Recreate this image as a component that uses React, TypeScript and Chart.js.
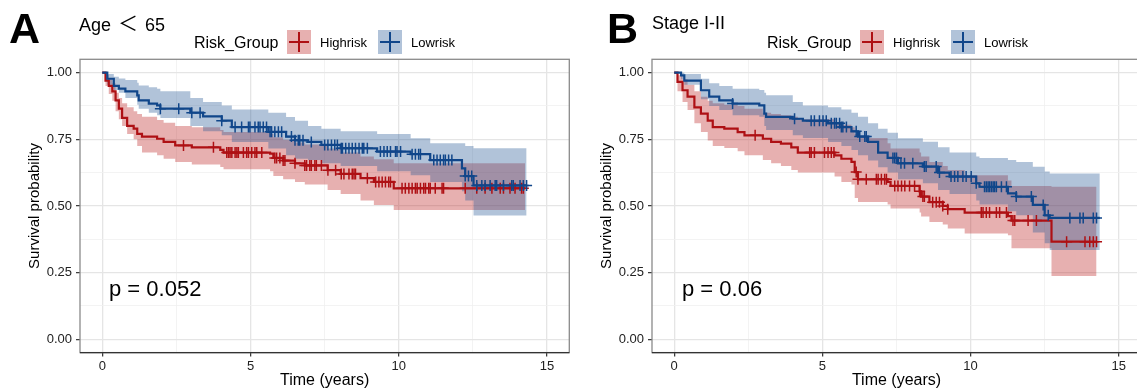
import React, { useEffect, useRef } from "react";
import { Chart, registerables } from "chart.js";

Chart.register(...registerables);
Chart.defaults.font.family = "'Liberation Sans', Arial, sans-serif";

// ---------- shared axis data ----------
const X_TICKS = [0, 2.5, 5, 7.5, 10, 12.5, 15];
const X_MAJOR = [0, 5, 10, 15];
const Y_TICKS = [0, 0.125, 0.25, 0.375, 0.5, 0.625, 0.75, 0.875, 1];
const Y_MAJOR = [0, 0.25, 0.5, 0.75, 1];
const GROUPS = ["Highrisk", "Lowrisk"];
const LEGEND_TITLE = "Risk_Group";

// ---------- Panel A: Age < 65 ----------
const A_HIGH_T = [0, 0.11, 0.22, 0.34, 0.45, 0.56, 0.67, 0.84, 1.06, 1.18, 1.34, 1.85, 2.07, 2.46, 3.02, 3.98, 4.09, 5.66, 5.77, 6.1, 6.5, 6.83, 7.6, 8.04, 8.71, 9.16, 9.83, 14.26];
const A_HIGH_S = [1, 0.97, 0.95, 0.93, 0.896, 0.865, 0.83, 0.8, 0.79, 0.77, 0.76, 0.752, 0.74, 0.727, 0.72, 0.71, 0.7, 0.696, 0.68, 0.67, 0.66, 0.652, 0.634, 0.62, 0.604, 0.59, 0.566, 0.566];
const A_HIGH_UP = [1, 0.99, 0.975, 0.96, 0.925, 0.905, 0.885, 0.87, 0.855, 0.845, 0.835, 0.822, 0.812, 0.8, 0.795, 0.785, 0.777, 0.77, 0.758, 0.748, 0.738, 0.73, 0.715, 0.7, 0.685, 0.675, 0.66, 0.66];
const A_HIGH_LO = [1, 0.95, 0.92, 0.895, 0.855, 0.825, 0.8, 0.77, 0.75, 0.725, 0.7, 0.69, 0.677, 0.665, 0.655, 0.646, 0.638, 0.63, 0.612, 0.6, 0.59, 0.58, 0.56, 0.545, 0.52, 0.504, 0.485, 0.485];
const A_HIGH_CENS = [2.74, 3.75, 4.2, 4.26, 4.31, 4.37, 4.48, 4.54, 4.59, 4.76, 4.87, 4.93, 5.04, 5.15, 5.21, 5.38, 5.82, 5.88, 5.99, 6.1, 6.16, 6.5, 6.83, 6.89, 7.0, 7.05, 7.17, 7.22, 7.39, 7.61, 7.87, 8.06, 8.15, 8.32, 8.43, 8.49, 8.54, 8.94, 9.22, 9.33, 9.44, 9.55, 9.66, 9.72, 10.11, 10.22, 10.34, 10.45, 10.56, 10.62, 10.73, 10.84, 10.9, 11.01, 11.06, 11.23, 11.46, 11.51, 12.24, 12.63, 12.91, 13.14, 13.42, 13.53, 13.75, 13.92, 14.14, 14.2];

const A_LOW_T = [0, 0.17, 0.39, 0.56, 0.78, 1.18, 1.23, 1.57, 1.85, 1.96, 2.97, 3.4, 4.03, 4.37, 5.6, 6.2, 6.5, 6.94, 7.39, 8.04, 9.27, 10.4, 11.06, 12.13, 12.24, 12.52, 14.31];
const A_LOW_S = [1, 0.977, 0.95, 0.94, 0.93, 0.915, 0.896, 0.884, 0.877, 0.865, 0.85, 0.836, 0.82, 0.796, 0.778, 0.76, 0.746, 0.74, 0.729, 0.716, 0.704, 0.694, 0.672, 0.641, 0.612, 0.577, 0.577];
const A_LOW_UP = [1, 0.995, 0.985, 0.978, 0.972, 0.962, 0.952, 0.945, 0.94, 0.93, 0.905, 0.89, 0.877, 0.862, 0.85, 0.834, 0.82, 0.8, 0.79, 0.78, 0.77, 0.754, 0.735, 0.735, 0.725, 0.716, 0.716];
const A_LOW_LO = [1, 0.955, 0.935, 0.925, 0.905, 0.88, 0.865, 0.85, 0.84, 0.83, 0.8, 0.78, 0.765, 0.74, 0.715, 0.69, 0.677, 0.672, 0.66, 0.65, 0.63, 0.615, 0.59, 0.555, 0.52, 0.464, 0.464];
const A_LOW_CENS = [1.96, 2.58, 3.02, 3.3, 4.03, 4.48, 4.7, 4.93, 4.98, 5.15, 5.26, 5.32, 5.43, 5.54, 5.66, 5.71, 5.82, 5.94, 6.05, 6.38, 6.5, 6.61, 6.66, 6.77, 7.05, 7.5, 7.61, 7.73, 7.84, 7.93, 8.06, 8.1, 8.21, 8.32, 8.43, 8.54, 8.66, 8.77, 8.82, 8.94, 9.38, 9.5, 9.61, 9.72, 9.89, 9.94, 10.06, 10.45, 10.56, 10.67, 10.73, 11.18, 11.29, 11.4, 11.51, 11.57, 11.68, 11.79, 12.24, 12.35, 12.46, 12.63, 12.8, 12.91, 13.08, 13.25, 13.3, 13.53, 13.81, 13.86, 14.09, 14.2, 14.31];

// ---------- Panel B: Stage I-II ----------
const B_HIGH_T = [0, 0.11, 0.28, 0.45, 0.68, 0.9, 1.13, 1.3, 1.69, 2.14, 2.37, 2.99, 3.27, 3.6, 3.95, 4.17, 5.41, 5.64, 5.98, 6.09, 6.2, 7.2, 7.3, 8.28, 8.33, 8.61, 9.06, 9.23, 9.8, 11.26, 11.38, 12.73, 14.25];
const B_HIGH_S = [1, 0.965, 0.934, 0.91, 0.87, 0.846, 0.82, 0.796, 0.79, 0.777, 0.765, 0.752, 0.74, 0.734, 0.72, 0.7, 0.69, 0.677, 0.665, 0.627, 0.6, 0.59, 0.575, 0.555, 0.535, 0.514, 0.5, 0.488, 0.475, 0.462, 0.445, 0.366, 0.366];
const B_HIGH_UP = [1, 0.99, 0.975, 0.955, 0.93, 0.91, 0.895, 0.885, 0.88, 0.875, 0.865, 0.85, 0.845, 0.84, 0.835, 0.825, 0.815, 0.805, 0.795, 0.77, 0.755, 0.735, 0.715, 0.7, 0.685, 0.665, 0.65, 0.635, 0.615, 0.595, 0.575, 0.572, 0.572];
const B_HIGH_LO = [1, 0.93, 0.89, 0.86, 0.81, 0.777, 0.745, 0.725, 0.717, 0.705, 0.69, 0.672, 0.66, 0.65, 0.635, 0.625, 0.61, 0.59, 0.58, 0.53, 0.515, 0.505, 0.49, 0.475, 0.46, 0.44, 0.43, 0.415, 0.397, 0.39, 0.341, 0.237, 0.237];
const B_HIGH_CENS = [2.73, 4.57, 4.62, 4.73, 5.07, 5.19, 5.3, 5.39, 6.14, 6.2, 6.48, 6.82, 6.88, 6.99, 7.1, 7.16, 7.44, 7.55, 7.67, 7.78, 7.94, 8.11, 8.28, 8.39, 8.44, 8.72, 8.84, 8.95, 9.06, 9.23, 10.36, 10.42, 10.53, 10.64, 10.87, 10.98, 11.21, 11.43, 11.49, 11.94, 12.22, 13.24, 13.86, 14.02, 14.14, 14.25];

const B_LOW_T = [0, 0.23, 0.34, 0.9, 1.18, 1.52, 1.97, 2.87, 3.04, 3.1, 4.0, 4.34, 5.19, 5.64, 5.98, 6.2, 6.54, 6.88, 7.2, 7.55, 8.39, 8.9, 9.29, 10.19, 10.3, 11.26, 11.54, 12.1, 12.5, 12.67, 14.36];
const B_LOW_S = [1, 0.99, 0.97, 0.934, 0.91, 0.896, 0.884, 0.877, 0.846, 0.834, 0.827, 0.82, 0.81, 0.796, 0.78, 0.76, 0.74, 0.7, 0.68, 0.66, 0.6475, 0.625, 0.61, 0.585, 0.572, 0.547, 0.535, 0.504, 0.465, 0.455, 0.455];
const B_LOW_UP = [1, 1, 0.995, 0.977, 0.96, 0.95, 0.94, 0.935, 0.925, 0.915, 0.89, 0.877, 0.87, 0.862, 0.85, 0.835, 0.81, 0.79, 0.775, 0.754, 0.741, 0.72, 0.7, 0.685, 0.68, 0.672, 0.665, 0.647, 0.629, 0.622, 0.622];
const B_LOW_LO = [1, 0.975, 0.955, 0.9, 0.875, 0.86, 0.84, 0.835, 0.8, 0.785, 0.765, 0.755, 0.74, 0.725, 0.71, 0.69, 0.67, 0.645, 0.625, 0.6, 0.585, 0.56, 0.545, 0.52, 0.505, 0.48, 0.465, 0.4, 0.36, 0.335, 0.335];
const B_LOW_CENS = [1.97, 4.06, 4.62, 4.73, 4.9, 5.02, 5.13, 5.3, 5.41, 5.47, 5.58, 5.64, 5.69, 5.81, 6.14, 6.26, 6.43, 6.48, 7.38, 7.44, 7.5, 7.65, 7.77, 8.05, 8.44, 8.5, 8.84, 8.95, 9.34, 9.46, 9.57, 9.74, 9.85, 10.02, 10.19, 10.47, 10.53, 10.59, 10.64, 10.7, 10.76, 10.81, 10.87, 11.04, 11.21, 11.54, 12.05, 12.45, 12.62, 13.35, 13.69, 13.8, 14.14, 14.25];

// ---------- styles ----------
const RED = "#AE1014";
const BLUE = "#10468A";
const RED_FILL = "rgba(190,40,40,0.37)";
const BLUE_FILL = "rgba(40,90,150,0.36)";
const FONT = "'Liberation Sans', Arial, sans-serif";

type Group = { T: number[]; S: number[]; UP: number[]; LO: number[]; C: number[] };
type PanelSpec = {
  left: number; width: number; axisW: number; padRight: number; yTitlePad: number;
  high: Group; low: Group;
};

function pts(T: number[], V: number[]) {
  return T.map((t, i) => ({ x: t, y: V[i] }));
}
function survAt(T: number[], S: number[], t: number) {
  let v = S[0];
  for (let i = 0; i < T.length; i++) {
    if (T[i] <= t) v = S[i];
    else break;
  }
  return v;
}
function censorPts(g: Group) {
  return g.C.map((t) => ({ x: t, y: survAt(g.T, g.S, t) }));
}

const framePlugin = {
  id: "frame",
  afterDatasetsDraw(chart: any) {
    const { ctx, chartArea: a } = chart;
    ctx.save();
    ctx.strokeStyle = "#8a8a8a";
    ctx.lineWidth = 1.3;
    ctx.strokeRect(a.left, a.top, a.right - a.left, a.bottom - a.top);
    ctx.strokeStyle = "#333";
    ctx.beginPath();
    ctx.moveTo(a.left, a.bottom);
    ctx.lineTo(a.right, a.bottom);
    ctx.stroke();
    ctx.restore();
  },
};

function buildConfig(p: PanelSpec): any {
  const band = (g: Group, fillIdx: number, color: string, order: number) => [
    { data: pts(g.T, g.UP), stepped: "before", fill: fillIdx, backgroundColor: color, borderWidth: 0, borderColor: "rgba(0,0,0,0)", pointRadius: 0, order },
    { data: pts(g.T, g.LO), stepped: "before", fill: false, borderWidth: 0, borderColor: "rgba(0,0,0,0)", pointRadius: 0, order },
  ];
  const line = (g: Group, color: string, order: number) => ({
    data: pts(g.T, g.S), stepped: "before", fill: false, borderColor: color, borderWidth: 2.2, pointRadius: 0, order,
  });
  const cens = (g: Group, color: string, order: number) => ({
    data: censorPts(g), showLine: false, pointStyle: "cross", pointRadius: 5.5, pointBorderWidth: 1.5,
    borderColor: color, backgroundColor: color, order,
  });
  const isMajorX = (v: number) => X_MAJOR.includes(v);
  const isMajorY = (v: number) => Y_MAJOR.some((m) => Math.abs(m - v) < 1e-9);
  return {
    type: "line",
    data: {
      datasets: [
        ...band(p.high, 1, RED_FILL, 40),
        ...band(p.low, 3, BLUE_FILL, 30),
        line(p.high, RED, 20),
        line(p.low, BLUE, 15),
        cens(p.high, RED, 10),
        cens(p.low, BLUE, 5),
      ],
    },
    options: {
      animation: false,
      responsive: false,
      events: [],
      layout: { autoPadding: false, padding: { left: 0, top: 59.3, right: p.padRight, bottom: 0 } },
      plugins: { legend: { display: false }, tooltip: { enabled: false }, title: { display: false } },
      scales: {
        x: {
          type: "linear",
          min: -0.75,
          max: 15.75,
          afterBuildTicks: (s: any) => { s.ticks = X_TICKS.map((v) => ({ value: v })); },
          afterFit: (s: any) => { s.height = 39.4; s.paddingLeft = 0; s.paddingRight = 0; },
          ticks: {
            autoSkip: false, maxRotation: 0, padding: 2, color: "#222",
            font: { size: 13 },
            callback: (v: number) => (isMajorX(v) ? String(v) : ""),
          },
          grid: {
            color: (c: any) => (c.tick && isMajorX(c.tick.value) ? "#e5e5e5" : "#f0f0f0"),
            lineWidth: (c: any) => (c.tick && isMajorX(c.tick.value) ? 1.3 : 0.8),
            tickLength: 4,
            tickWidth: 1.2,
            tickColor: (c: any) => (c.tick && isMajorX(c.tick.value) ? "#333" : "rgba(0,0,0,0)"),
          },
          border: { display: false },
          title: { display: true, text: "Time (years)", color: "#000", font: { size: 16 }, padding: { top: 0, bottom: 1.4 } },
        },
        y: {
          type: "linear",
          min: -0.05,
          max: 1.05,
          afterBuildTicks: (s: any) => { s.ticks = Y_TICKS.map((v) => ({ value: v })); },
          afterFit: (s: any) => { s.width = p.axisW; s.paddingTop = 0; s.paddingBottom = 0; },
          ticks: {
            autoSkip: false, padding: 4, color: "#222",
            font: { size: 13 },
            callback: (v: number) => (isMajorY(v) ? v.toFixed(2) : ""),
          },
          grid: {
            color: (c: any) => (c.tick && isMajorY(c.tick.value) ? "#e5e5e5" : "#f0f0f0"),
            lineWidth: (c: any) => (c.tick && isMajorY(c.tick.value) ? 1.3 : 0.8),
            tickLength: 4,
            tickWidth: 1.2,
            tickColor: (c: any) => (c.tick && isMajorY(c.tick.value) ? "#333" : "rgba(0,0,0,0)"),
          },
          border: { display: false },
          title: { display: true, text: "Survival probability", color: "#000", font: { size: 15 }, padding: { top: p.yTitlePad, bottom: 0 } },
        },
      },
    },
    plugins: [framePlugin],
  };
}

function Panel({ spec }: { spec: PanelSpec }) {
  const ref = useRef<HTMLCanvasElement>(null);
  useEffect(() => {
    const chart = new Chart(ref.current as HTMLCanvasElement, buildConfig(spec));
    return () => chart.destroy();
  }, []);
  return (
    <canvas
      ref={ref}
      width={spec.width}
      height={392}
      style={{ position: "absolute", left: spec.left, top: 0, width: spec.width, height: 392 }}
    />
  );
}

function Txt({ left, base, size, bold, children }: { left: number; base: number; size: number; bold?: boolean; children: React.ReactNode }) {
  return (
    <div
      style={{
        position: "absolute", left, top: base - 0.8465 * size, fontSize: size, lineHeight: `${size}px`,
        fontFamily: FONT, fontWeight: bold ? 700 : 400, color: "#000", whiteSpace: "nowrap",
      }}
    >
      {children}
    </div>
  );
}

function Key({ left, color, fill }: { left: number; color: string; fill: string }) {
  return (
    <div style={{ position: "absolute", left, top: 30, width: 24, height: 24, background: fill }}>
      <div style={{ position: "absolute", left: 2, top: 11, width: 20, height: 2, background: color }} />
      <div style={{ position: "absolute", left: 11, top: 2, width: 2, height: 20, background: color }} />
    </div>
  );
}

function Legend({ x }: { x: number }) {
  return (
    <>
      <Txt left={x} base={48.5} size={16}>{LEGEND_TITLE}</Txt>
      <Key left={x + 93} color={RED} fill={RED_FILL} />
      <Txt left={x + 126} base={47.5} size={13}>{GROUPS[0]}</Txt>
      <Key left={x + 184} color={BLUE} fill={BLUE_FILL} />
      <Txt left={x + 217} base={47.5} size={13}>{GROUPS[1]}</Txt>
    </>
  );
}

const SPEC_A: PanelSpec = {
  left: 0, width: 570, axisW: 80, padRight: 0.7, yTitlePad: 26,
  high: { T: A_HIGH_T, S: A_HIGH_S, UP: A_HIGH_UP, LO: A_HIGH_LO, C: A_HIGH_CENS },
  low: { T: A_LOW_T, S: A_LOW_S, UP: A_LOW_UP, LO: A_LOW_LO, C: A_LOW_CENS },
};
const SPEC_B: PanelSpec = {
  left: 570, width: 575, axisW: 82, padRight: 4, yTitlePad: 28,
  high: { T: B_HIGH_T, S: B_HIGH_S, UP: B_HIGH_UP, LO: B_HIGH_LO, C: B_HIGH_CENS },
  low: { T: B_LOW_T, S: B_LOW_S, UP: B_LOW_UP, LO: B_LOW_LO, C: B_LOW_CENS },
};

export default function App() {
  return (
    <div style={{ position: "relative", width: 1137, height: 392, overflow: "hidden", background: "#fff", fontFamily: FONT }}>
      <style>{"body{margin:0}"}</style>
      <Panel spec={SPEC_A} />
      <Panel spec={SPEC_B} />
      <Txt left={9} base={43} size={43} bold>A</Txt>
      <Txt left={79} base={29} size={18}>
        Age <span style={{ fontFamily: "'Noto Sans CJK SC', sans-serif", fontSize: 20, margin: "0 2px" }}>＜</span> 65
      </Txt>
      <Legend x={194} />
      <Txt left={109} base={297} size={22}>p = 0.052</Txt>
      <Txt left={607} base={43} size={43} bold>B</Txt>
      <Txt left={652} base={29} size={18}>Stage I-II</Txt>
      <Legend x={767} />
      <Txt left={682} base={297} size={22}>p = 0.06</Txt>
    </div>
  );
}
